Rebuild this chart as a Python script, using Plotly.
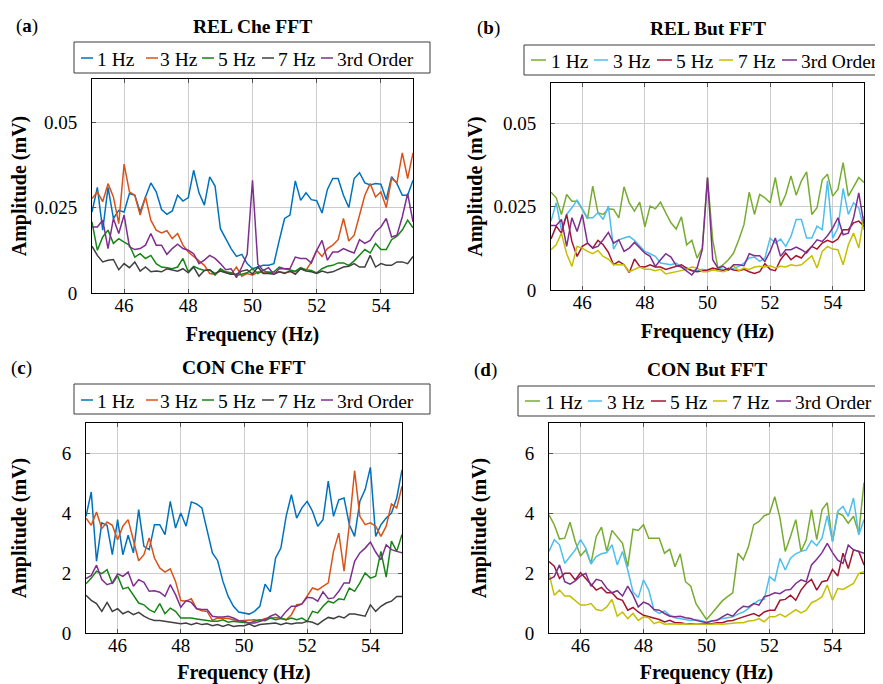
import numpy as np
import plotly.graph_objects as go

# the page adds an 8px body margin; figure is sized to fill the rest of the 883x684 window
PAGE_OFF = 8
W, H = 883 - PAGE_OFF, 684 - PAGE_OFF
FONT = "Liberation Serif, Times New Roman, serif"

# frequency grid (Hz), 1/6 Hz resolution
freq = np.linspace(45, 55, 61)
series_names = ["1 Hz", "3 Hz", "5 Hz", "7 Hz", "3rd Order"]

# ---------------- (a) REL Che FFT  (mV) ----------------
rel_che_1hz = [0.0237, 0.0309, 0.0184, 0.0309, 0.0218, 0.0242, 0.0237, 0.0291, 0.0286, 0.0237, 0.0281,
               0.0322, 0.0296, 0.0244, 0.0230, 0.0240, 0.0286, 0.0269, 0.0279, 0.0359, 0.0293, 0.0257,
               0.0340, 0.0313, 0.0188, 0.0159, 0.0130, 0.0107, 0.0113, 0.0086, 0.0071,
               0.0076, 0.0081, 0.0081, 0.0086, 0.0154, 0.0218, 0.0228, 0.0328, 0.0271, 0.0293, 0.0273,
               0.0270, 0.0234, 0.0303, 0.0335, 0.0335, 0.0286, 0.0250, 0.0335, 0.0352, 0.0322, 0.0316,
               0.0320, 0.0318, 0.0273, 0.0340, 0.0320, 0.0286, 0.0286, 0.0330]
rel_che_3hz = [0.0276, 0.0296, 0.0267, 0.0320, 0.0281, 0.0203, 0.0377, 0.0296, 0.0286, 0.0228, 0.0281,
               0.0213, 0.0184, 0.0176, 0.0182, 0.0159, 0.0174, 0.0140, 0.0120, 0.0107, 0.0096, 0.0081,
               0.0057, 0.0055, 0.0066, 0.0061, 0.0055, 0.0076, 0.0049, 0.0057, 0.0052,
               0.0062, 0.0059, 0.0062, 0.0057, 0.0062, 0.0059, 0.0062, 0.0062, 0.0071, 0.0066, 0.0091,
               0.0125, 0.0107, 0.0130, 0.0140, 0.0156, 0.0218, 0.0152, 0.0169, 0.0232, 0.0286, 0.0320,
               0.0281, 0.0296, 0.0250, 0.0335, 0.0322, 0.0410, 0.0335, 0.0410]
rel_che_5hz = [0.0208, 0.0125, 0.0164, 0.0184, 0.0145, 0.0159, 0.0149, 0.0140, 0.0105, 0.0115, 0.0101,
               0.0110, 0.0086, 0.0076, 0.0074, 0.0071, 0.0076, 0.0101, 0.0062, 0.0078, 0.0071, 0.0066,
               0.0068, 0.0052, 0.0071, 0.0062, 0.0059, 0.0052, 0.0055, 0.0059, 0.0071,
               0.0057, 0.0066, 0.0059, 0.0062, 0.0076, 0.0071, 0.0068, 0.0064, 0.0074, 0.0068, 0.0066,
               0.0059, 0.0071, 0.0078, 0.0081, 0.0088, 0.0088, 0.0081, 0.0094, 0.0110, 0.0127, 0.0117,
               0.0145, 0.0127, 0.0127, 0.0156, 0.0166, 0.0184, 0.0213, 0.0191]
rel_che_7hz = [0.0137, 0.0110, 0.0091, 0.0096, 0.0098, 0.0068, 0.0086, 0.0074, 0.0091, 0.0064, 0.0076,
               0.0062, 0.0064, 0.0062, 0.0071, 0.0068, 0.0064, 0.0071, 0.0059, 0.0076, 0.0049, 0.0066,
               0.0068, 0.0057, 0.0064, 0.0059, 0.0055, 0.0055, 0.0064, 0.0068, 0.0055,
               0.0076, 0.0057, 0.0057, 0.0055, 0.0062, 0.0057, 0.0064, 0.0055, 0.0071, 0.0064, 0.0062,
               0.0057, 0.0064, 0.0059, 0.0062, 0.0068, 0.0076, 0.0078, 0.0086, 0.0076, 0.0076, 0.0110,
               0.0076, 0.0086, 0.0081, 0.0081, 0.0091, 0.0091, 0.0086, 0.0107]
rel_che_3rd = [0.0193, 0.0193, 0.0213, 0.0130, 0.0218, 0.0174, 0.0228, 0.0135, 0.0127, 0.0130, 0.0140,
               0.0174, 0.0140, 0.0140, 0.0113, 0.0130, 0.0143, 0.0130, 0.0125, 0.0115, 0.0086, 0.0096,
               0.0110, 0.0101, 0.0086, 0.0068, 0.0071, 0.0045, 0.0076, 0.0113, 0.0330,
               0.0084, 0.0066, 0.0074, 0.0055, 0.0071, 0.0071, 0.0071, 0.0105, 0.0101, 0.0101, 0.0088,
               0.0125, 0.0154, 0.0096, 0.0120, 0.0120, 0.0130, 0.0123, 0.0117, 0.0156, 0.0145, 0.0154,
               0.0179, 0.0193, 0.0218, 0.0164, 0.0169, 0.0223, 0.0291, 0.0208]

# ---------------- (b) REL But FFT  (mV) ----------------
rel_but_1hz = [0.0294, 0.0277, 0.0227, 0.0287, 0.0267, 0.0267, 0.0242, 0.0214, 0.0312, 0.0232, 0.0227,
               0.0244, 0.0242, 0.0217, 0.0310, 0.0262, 0.0237, 0.0264, 0.0190, 0.0252, 0.0244, 0.0264,
               0.0232, 0.0202, 0.0183, 0.0220, 0.0136, 0.0149, 0.0096, 0.0126, 0.0338,
               0.0150, 0.0066, 0.0076, 0.0091, 0.0111, 0.0151, 0.0197, 0.0294, 0.0227, 0.0287, 0.0277,
               0.0262, 0.0338, 0.0252, 0.0287, 0.0343, 0.0285, 0.0328, 0.0355, 0.0227, 0.0247, 0.0331,
               0.0348, 0.0282, 0.0302, 0.0383, 0.0282, 0.0310, 0.0338, 0.0323]
rel_but_3hz = [0.0207, 0.0262, 0.0181, 0.0227, 0.0247, 0.0270, 0.0244, 0.0217, 0.0217, 0.0232, 0.0212,
               0.0252, 0.0123, 0.0151, 0.0156, 0.0161, 0.0149, 0.0131, 0.0116, 0.0109, 0.0101, 0.0081,
               0.0079, 0.0076, 0.0081, 0.0069, 0.0062, 0.0060, 0.0058, 0.0062, 0.0058,
               0.0062, 0.0065, 0.0062, 0.0060, 0.0065, 0.0071, 0.0081, 0.0096, 0.0099, 0.0086, 0.0096,
               0.0156, 0.0141, 0.0153, 0.0131, 0.0161, 0.0212, 0.0212, 0.0156, 0.0156, 0.0192, 0.0181,
               0.0328, 0.0156, 0.0186, 0.0305, 0.0227, 0.0262, 0.0247, 0.0181]
rel_but_5hz = [0.0153, 0.0192, 0.0171, 0.0227, 0.0146, 0.0101, 0.0131, 0.0141, 0.0126, 0.0149, 0.0136,
               0.0113, 0.0076, 0.0086, 0.0076, 0.0052, 0.0093, 0.0071, 0.0069, 0.0076, 0.0069, 0.0069,
               0.0062, 0.0066, 0.0071, 0.0076, 0.0066, 0.0058, 0.0055, 0.0058, 0.0060,
               0.0066, 0.0062, 0.0058, 0.0065, 0.0060, 0.0058, 0.0062, 0.0055, 0.0050, 0.0055, 0.0079,
               0.0062, 0.0058, 0.0091, 0.0111, 0.0091, 0.0103, 0.0096, 0.0116, 0.0131, 0.0123, 0.0141,
               0.0149, 0.0143, 0.0153, 0.0181, 0.0181, 0.0202, 0.0207, 0.0192]
rel_but_7hz = [0.0121, 0.0136, 0.0171, 0.0109, 0.0071, 0.0131, 0.0126, 0.0116, 0.0109, 0.0119, 0.0101,
               0.0093, 0.0076, 0.0076, 0.0076, 0.0055, 0.0062, 0.0069, 0.0062, 0.0062, 0.0058, 0.0062,
               0.0048, 0.0052, 0.0055, 0.0060, 0.0062, 0.0069, 0.0066, 0.0055, 0.0055,
               0.0060, 0.0058, 0.0055, 0.0060, 0.0073, 0.0058, 0.0066, 0.0062, 0.0069, 0.0071, 0.0069,
               0.0073, 0.0066, 0.0071, 0.0069, 0.0076, 0.0073, 0.0076, 0.0089, 0.0103, 0.0066, 0.0116,
               0.0131, 0.0123, 0.0121, 0.0076, 0.0136, 0.0171, 0.0126, 0.0222]
rel_but_3rd = [0.0194, 0.0194, 0.0212, 0.0131, 0.0217, 0.0176, 0.0227, 0.0141, 0.0126, 0.0131, 0.0151,
               0.0173, 0.0141, 0.0151, 0.0116, 0.0126, 0.0143, 0.0126, 0.0111, 0.0101, 0.0071, 0.0091,
               0.0109, 0.0099, 0.0073, 0.0069, 0.0058, 0.0045, 0.0066, 0.0121, 0.0338,
               0.0091, 0.0066, 0.0071, 0.0060, 0.0076, 0.0076, 0.0073, 0.0109, 0.0103, 0.0103, 0.0086,
               0.0116, 0.0156, 0.0101, 0.0121, 0.0121, 0.0129, 0.0121, 0.0111, 0.0131, 0.0151, 0.0146,
               0.0163, 0.0186, 0.0217, 0.0166, 0.0171, 0.0217, 0.0292, 0.0197]

# ---------------- (c) CON Che FFT  (mV) ----------------
con_che_1hz = [3.89, 4.70, 2.39, 3.67, 3.59, 2.61, 3.78, 2.61, 3.26, 2.67, 4.11, 2.89, 2.78, 3.61, 3.61, 3.28,
               4.39, 3.50, 4.00, 3.56, 4.37, 4.30, 4.17, 3.39, 2.67, 2.41, 1.72, 1.22, 0.89, 0.70, 0.67,
               0.63, 0.72, 0.89, 1.63, 1.37, 2.50, 2.83, 3.89, 4.61, 3.83, 4.17, 4.39, 4.06, 3.56, 3.78,
               5.06, 3.89, 4.44, 4.50, 3.61, 3.22, 4.39, 4.78, 5.52, 3.22, 3.61, 3.83, 4.00, 4.50, 5.44]
con_che_3hz = [3.83, 3.59, 4.03, 3.48, 3.70, 3.59, 3.11, 3.56, 3.78, 3.11, 2.41, 2.61, 3.17, 2.50, 2.17, 2.03,
               2.14, 1.72, 1.08, 1.06, 1.14, 0.81, 0.74, 0.72, 0.42, 0.50, 0.50, 0.48, 0.44, 0.41, 0.42,
               0.42, 0.44, 0.41, 0.48, 0.50, 0.52, 0.50, 0.44, 0.61, 0.94, 0.97, 1.22, 1.50, 1.44, 1.56,
               1.67, 2.72, 3.33, 2.06, 3.61, 5.41, 3.89, 3.61, 3.67, 3.56, 3.22, 3.56, 4.30, 4.17, 4.89]
con_che_5hz = [1.64, 1.83, 2.06, 1.98, 2.11, 1.64, 1.91, 1.47, 1.52, 1.28, 1.00, 0.94, 0.78, 0.69, 0.98, 0.64,
               0.83, 0.72, 0.50, 0.50, 0.50, 0.47, 0.44, 0.42, 0.39, 0.39, 0.44, 0.36, 0.39, 0.37, 0.36,
               0.33, 0.39, 0.44, 0.41, 0.50, 0.44, 0.48, 0.44, 0.50, 0.44, 0.50, 0.39, 0.72, 0.67, 0.89,
               1.06, 1.00, 1.14, 1.11, 1.50, 1.39, 1.67, 2.00, 1.83, 1.89, 2.72, 1.86, 3.06, 2.72, 3.28]
con_che_7hz = [1.26, 1.09, 0.98, 0.72, 1.02, 0.72, 0.81, 0.64, 0.72, 0.61, 0.69, 0.56, 0.47, 0.42, 0.42, 0.39,
               0.36, 0.33, 0.31, 0.33, 0.28, 0.33, 0.28, 0.31, 0.24, 0.28, 0.22, 0.28, 0.22, 0.24, 0.24,
               0.30, 0.22, 0.28, 0.30, 0.30, 0.33, 0.28, 0.33, 0.30, 0.33, 0.33, 0.39, 0.36, 0.28, 0.41,
               0.52, 0.48, 0.56, 0.50, 0.63, 0.63, 0.59, 0.56, 0.94, 0.72, 0.89, 1.00, 1.06, 1.22, 1.22]
con_che_3rd = [1.81, 1.92, 2.26, 1.78, 1.61, 1.67, 1.97, 1.89, 2.03, 1.56, 1.78, 1.69, 1.39, 1.41, 1.36, 1.22,
               1.61, 1.28, 0.86, 1.08, 1.02, 0.81, 0.78, 0.78, 0.56, 0.53, 0.53, 0.56, 0.50, 0.41, 0.39,
               0.33, 0.33, 0.39, 0.44, 0.56, 0.63, 0.50, 0.72, 0.89, 0.89, 0.97, 1.19, 1.17, 1.06, 1.37,
               1.14, 1.17, 1.39, 1.67, 1.67, 2.39, 2.67, 2.83, 3.03, 2.70, 2.44, 2.94, 2.78, 2.72, 2.67]

# ---------------- (d) CON But FFT  (mV) ----------------
con_but_1hz = [3.94, 3.61, 3.13, 3.16, 3.69, 3.05, 2.57, 2.77, 2.32, 3.22, 3.53, 2.72, 3.42, 3.22, 2.99, 2.21,
               3.46, 3.42, 3.61, 3.16, 3.16, 3.16, 2.66, 2.79, 2.21, 2.64, 1.71, 1.56, 0.98, 0.70, 0.45,
               0.65, 0.85, 1.07, 1.21, 1.34, 2.66, 2.44, 2.88, 3.61, 3.72, 3.91, 3.98, 4.54, 3.83, 2.72,
               3.22, 3.78, 2.72, 3.11, 4.11, 3.11, 4.11, 4.34, 3.05, 4.00, 3.91, 3.66, 3.89, 3.33, 5.01]
con_but_3hz = [2.72, 3.11, 2.94, 2.32, 2.55, 2.77, 3.11, 2.83, 2.30, 2.55, 2.64, 2.68, 2.94, 2.27, 2.72, 2.10,
               1.37, 1.18, 1.77, 1.43, 0.76, 0.65, 0.74, 0.59, 0.51, 0.48, 0.45, 0.42, 0.45, 0.40, 0.37,
               0.40, 0.45, 0.48, 0.51, 0.54, 0.63, 0.70, 0.82, 0.98, 1.09, 1.12, 1.88, 1.74, 2.49, 2.10,
               2.49, 2.64, 2.72, 2.77, 3.08, 2.91, 3.16, 3.91, 3.05, 4.06, 4.22, 3.89, 4.50, 3.27, 3.78]
con_but_5hz = [2.38, 2.23, 1.82, 1.99, 1.99, 1.77, 2.01, 1.82, 1.65, 1.43, 1.52, 1.34, 1.34, 1.15, 1.09, 0.76,
               0.85, 0.70, 0.59, 0.54, 0.48, 0.45, 0.37, 0.42, 0.34, 0.34, 0.31, 0.31, 0.29, 0.29, 0.31,
               0.31, 0.34, 0.34, 0.40, 0.42, 0.48, 0.54, 0.59, 0.65, 0.56, 0.70, 0.76, 0.76, 1.09, 1.12,
               1.26, 1.09, 1.43, 1.65, 1.79, 1.43, 1.71, 1.75, 2.12, 1.90, 2.66, 2.15, 2.77, 2.72, 2.27]
con_but_7hz = [1.99, 1.26, 1.43, 1.23, 1.23, 1.07, 0.93, 0.93, 0.98, 0.78, 0.74, 0.87, 1.12, 0.56, 0.70, 0.48,
               0.65, 0.42, 0.54, 0.51, 0.31, 0.37, 0.29, 0.31, 0.29, 0.29, 0.31, 0.29, 0.31, 0.29, 0.29,
               0.29, 0.31, 0.29, 0.31, 0.31, 0.34, 0.34, 0.40, 0.42, 0.48, 0.37, 0.54, 0.54, 0.63, 0.54,
               0.67, 0.78, 0.67, 0.76, 1.01, 1.09, 1.21, 1.60, 1.09, 1.48, 1.45, 1.54, 1.65, 1.99, 2.04]
con_but_3rd = [1.79, 1.88, 2.27, 1.71, 1.63, 1.74, 1.90, 1.99, 1.56, 1.79, 1.74, 1.49, 1.34, 1.41, 1.23, 1.56,
               1.26, 0.87, 1.03, 0.96, 0.78, 0.76, 0.65, 0.56, 0.54, 0.56, 0.51, 0.48, 0.42, 0.37, 0.34,
               0.40, 0.42, 0.54, 0.63, 0.56, 0.76, 0.89, 0.87, 0.98, 0.93, 1.21, 1.26, 1.34, 1.31, 1.43,
               1.45, 1.65, 1.77, 1.71, 2.27, 2.46, 2.68, 2.99, 2.68, 2.43, 2.32, 2.93, 2.77, 2.72, 2.66]

che_colors = ["#0072BD", "#D95319", "#168516", "#404040", "#7E2F8E"]
but_colors = ["#77AC30", "#4DBEEE", "#A2142F", "#C4C000", "#7E2F8E"]

y_ticks_small = [0, 0.025, 0.05]
y_ticktext_small = ["0", "0.025", "0.05"]
y_ticks_big = [0, 2, 4, 6]
x_ticks = [46, 48, 50, 52, 54]


def px(x):
    """window pixel x -> paper fraction"""
    return (x - PAGE_OFF) / W


def py(y):
    """window pixel y -> paper fraction"""
    return 1 - (y - PAGE_OFF) / H


panels = [
    dict(key="", label="a", title="REL Che FFT", colors=che_colors,
         data=[rel_che_1hz, rel_che_3hz, rel_che_5hz, rel_che_7hz, rel_che_3rd],
         box=(92, 79, 413, 293), yrange=[0, 0.0626], yt=y_ticks_small, ytt=y_ticktext_small,
         title_xy=(252, 26), label_xy=(27, 26), ystand=8,
         leg_box=(74, 42, 430, 73), leg_y=58,
         leg_lines=[(81, 93), (146, 158), (202, 214), (262, 274), (321, 333)],
         leg_text=[95, 158, 216, 276, 335]),
    dict(key="2", label="b", title="REL But FFT", colors=but_colors,
         data=[rel_but_1hz, rel_but_3hz, rel_but_5hz, rel_but_7hz, rel_but_3rd],
         box=(551, 83, 864, 290), yrange=[0, 0.0622], yt=y_ticks_small, ytt=y_ticktext_small,
         title_xy=(708, 29), label_xy=(488, 28), ystand=5,
         leg_box=(524, 45, 890, 75), leg_y=60,
         leg_lines=[(531, 546), (594, 608), (657, 672), (719, 733), (782, 797)],
         leg_text=[549, 611, 674, 736, 799]),
    dict(key="3", label="c", title="CON Che FFT", colors=che_colors,
         data=[con_che_1hz, con_che_3hz, con_che_5hz, con_che_7hz, con_che_3rd],
         box=(86, 423, 402, 633), yrange=[0, 7], yt=y_ticks_big, ytt=None,
         title_xy=(244, 367), label_xy=(21, 368), ystand=32,
         leg_box=(74, 384, 430, 414), leg_y=400,
         leg_lines=[(81, 93), (146, 158), (202, 214), (262, 274), (321, 333)],
         leg_text=[95, 158, 216, 276, 335]),
    dict(key="4", label="d", title="CON But FFT", colors=but_colors,
         data=[con_but_1hz, con_but_3hz, con_but_5hz, con_but_7hz, con_but_3rd],
         box=(549, 423, 864, 633), yrange=[0, 7], yt=y_ticks_big, ytt=None,
         title_xy=(707, 369), label_xy=(485, 370), ystand=32,
         leg_box=(518, 386, 890, 416), leg_y=401,
         leg_lines=[(525, 540), (588, 602), (651, 666), (713, 727), (776, 791)],
         leg_text=[543, 605, 668, 730, 793]),
]

fig = go.Figure()
layout = dict(
    width=W, height=H,
    margin=dict(l=0, r=0, t=0, b=0, autoexpand=False),
    paper_bgcolor="white", plot_bgcolor="white",
    showlegend=False,
    font=dict(family=FONT, size=18, color="black"),
)
shapes = []
annotations = []

GRID = "#cccccc"

for p in panels:
    k = p["key"]
    xa = "x" + k
    ya = "y" + k
    x0, y0, x1, y1 = p["box"]
    for name, vals, col in zip(series_names, p["data"], p["colors"]):
        fig.add_trace(go.Scatter(x=freq, y=vals, mode="lines", name=name,
                                 line=dict(color=col, width=1.5),
                                 xaxis=xa, yaxis=ya))
    common = dict(showgrid=True, gridcolor=GRID, gridwidth=1, showline=True, linecolor="black",
                  linewidth=1, mirror="ticks", ticks="inside", ticklen=4, tickcolor="#555555",
                  zeroline=False, automargin=False,
                  tickfont=dict(family=FONT, size=19, color="black"))
    layout["xaxis" + k] = dict(common, domain=[px(x0), px(x1)], range=[45, 55], anchor=ya,
                               tickvals=x_ticks, ticklabelstandoff=-5,
                               title=dict(text="<b>Frequency (Hz)</b>", standoff=12,
                                          font=dict(family=FONT, size=20, color="black")))
    yax = dict(common, domain=[py(y1), py(y0)], range=p["yrange"], anchor=xa,
               tickvals=p["yt"], ticklabelstandoff=10,
               title=dict(text="<b>Amplitude (mV)</b>", standoff=p["ystand"],
                          font=dict(family=FONT, size=20, color="black")))
    if p["ytt"] is not None:
        yax["ticktext"] = p["ytt"]
    layout["yaxis" + k] = yax

    # panel title and label
    annotations.append(dict(text="<b>%s</b>" % p["title"], x=px(p["title_xy"][0]), y=py(p["title_xy"][1]),
                            xref="paper", yref="paper", showarrow=False, xanchor="center", yanchor="middle",
                            font=dict(family=FONT, size=19.5, color="black")))
    annotations.append(dict(text="(<b>%s</b>)" % p["label"], x=px(p["label_xy"][0]), y=py(p["label_xy"][1]),
                            xref="paper", yref="paper", showarrow=False, xanchor="center", yanchor="middle",
                            font=dict(family=FONT, size=19, color="black")))
    # legend box
    bx0, by0, bx1, by1 = p["leg_box"]
    shapes.append(dict(type="rect", xref="paper", yref="paper", x0=px(bx0), x1=px(bx1),
                       y0=py(by1), y1=py(by0), line=dict(color="#3a3a3a", width=1), fillcolor="white"))
    for name, col, (lx0, lx1), tx in zip(series_names, p["colors"], p["leg_lines"], p["leg_text"]):
        shapes.append(dict(type="line", xref="paper", yref="paper", x0=px(lx0), x1=px(lx1),
                           y0=py(p["leg_y"]), y1=py(p["leg_y"]), line=dict(color=col, width=1.5)))
        annotations.append(dict(text=name, x=px(tx), y=py(p["leg_y"] + 1), xref="paper", yref="paper",
                                showarrow=False, xanchor="left", yanchor="middle",
                                font=dict(family=FONT, size=19.5, color="black")))

layout["shapes"] = shapes
layout["annotations"] = annotations
fig.update_layout(**layout)
fig.write_html("out.html")
